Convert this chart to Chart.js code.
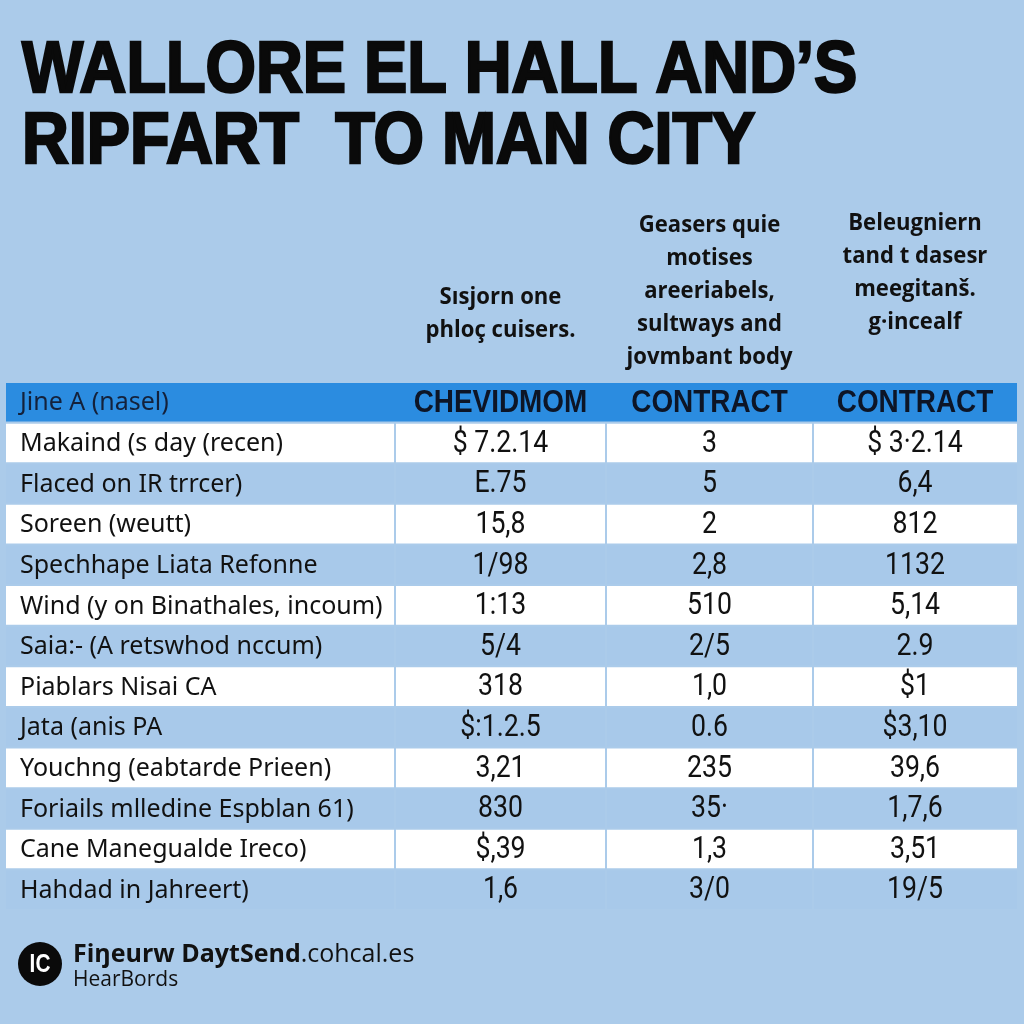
<!DOCTYPE html>
<html>
<head>
<meta charset="utf-8">
<script src="https://cdn.jsdelivr.net/npm/chart.js@4.4.1/dist/chart.umd.min.js"></script>
<style>
  html, body { margin: 0; padding: 0; background: #abcbea; }
  #wrap { width: 1024px; height: 1024px; }
</style>
</head>
<body>
<div id="wrap"><canvas id="myChart"></canvas></div>
<script>
// setup - text and values
const titleLines = ['WALLORE EL HALL AND\u2019S', 'RIPFART  TO MAN CITY'];
const rowLabels = [
    'Jine A (nasel)',
    'Makaind (s day (recen)',
    'Flaced on IR trrcer)',
    'Soreen (weutt)',
    'Spechhape Liata Refonne',
    'Wind (y on Binathales, incoum)',
    'Saia:- (A retswhod nccum)',
    'Piablars Nisai CA',
    'Jata (anis PA',
    'Youchng (eabtarde Prieen)',
    'Foriails mlledine Espblan 61)',
    'Cane Manegualde Ireco)',
    'Hahdad in Jahreert)',
];
const colHeaders = ['CHEVIDMOM', 'CONTRACT', 'CONTRACT'];
const colNotes = [
    ['S\u0131sjorn one', 'phlo\u00e7 cuisers.'],
    ['Geasers quie', 'motises', 'areeriabels,', 'sultways and', 'jovmbant body'],
    ['Beleugniern', 'tand t dasesr', 'meegitan\u0161.', 'g\u00b7incealf'],
];
const colA = ['$ 7.2.14', 'E.75', '15,8', '1/98', '1:13', '5/4', '318', '$:1.2.5', '3,21', '830', '$,39', '1,6'];
const colB = ['3', '5', '2', '2,8', '510', '2/5', '1,0', '0.6', '235', '35\u00b7', '1,3', '3/0'];
const colC = ['$ 3\u00b72.14', '6,4', '812', '1132', '5,14', '2.9', '$1', '$3,10', '39,6', '1,7,6', '3,51', '19/5'];
const footerBold = 'Fi\u014beurw DaytSend';
const footerRest = '.cohcal.es';
const footerSub = 'HearBords';

// layout (column edges on the x scale)
const colEdges = [0, 389, 600, 807, 1011];
const noteBottoms = [330, 357, 322];
const BG = '#abcbea';
const HEAD = '#2b8ce0';
const ROWBLUE = '#a8c9ea';

const datasets = colEdges.slice(0, 4).map((start, c) => {
    const end = colEdges[c + 1];
    return {
        label: 'col' + c,
        grouped: false,
        barPercentage: 1,
        categoryPercentage: 0.95,
        borderWidth: 0,
        data: rowLabels.map((_, r) => r === 0
            ? [start, end]
            : [start + (c ? 1 : 0), end - (c < 3 ? 1 : 0)]),
        backgroundColor: rowLabels.map((_, r) => r === 0 ? HEAD : (r % 2 ? '#ffffff' : ROWBLUE)),
    };
});

// draws text squeezed horizontally around (x, y)
const squeezed = (ctx, txt, x, y, sx) => {
    ctx.save();
    ctx.translate(x, y);
    ctx.scale(sx, 1);
    ctx.fillText(txt, 0, 0);
    ctx.restore();
};

const tableText = {
    id: 'tableText',
    beforeDraw(chart) {
        const ctx = chart.ctx;
        ctx.save();
        ctx.fillStyle = BG;
        ctx.fillRect(0, 0, chart.width, chart.height);
        ctx.restore();
    },
    afterDatasetsDraw(chart) {
        const ctx = chart.ctx;
        const xs = chart.scales.x, ys = chart.scales.y;
        ctx.save();
        ctx.textBaseline = 'middle';

        // first column: row labels
        ctx.textAlign = 'left';
        rowLabels.forEach((lab, r) => {
            ctx.font = '25px "Noto Sans"';
            ctx.fillStyle = r === 0 ? '#14213a' : '#111111';
            ctx.fillText(lab, xs.getPixelForValue(colEdges[0]) + 14, ys.getPixelForValue(r) + 1);
        });

        // header row labels
        ctx.textAlign = 'center';
        colHeaders.forEach((h, c) => {
            const cx = xs.getPixelForValue((colEdges[c + 1] + colEdges[c + 2]) / 2);
            ctx.font = 'bold 31px "Liberation Sans"';
            ctx.fillStyle = '#0d1526';
            squeezed(ctx, h, cx, ys.getPixelForValue(0) + 1, 0.9);
        });

        // values
        [colA, colB, colC].forEach((col, c) => {
            const cx = xs.getPixelForValue((colEdges[c + 1] + colEdges[c + 2]) / 2);
            col.forEach((v, i) => {
                ctx.font = '31px Roboto';
                ctx.fillStyle = '#111111';
                squeezed(ctx, v, cx, ys.getPixelForValue(i + 1) + 1, 0.86);
            });
        });

        // notes above the columns
        colNotes.forEach((lines, c) => {
            const cx = xs.getPixelForValue((colEdges[c + 1] + colEdges[c + 2]) / 2);
            ctx.font = 'bold 24px "Open Sans"';
            ctx.fillStyle = '#111111';
            lines.forEach((ln, k) => {
                squeezed(ctx, ln, cx, noteBottoms[c] - (lines.length - 1 - k) * 33, 0.92);
            });
        });
        ctx.restore();
    },
    afterDraw(chart) {
        const ctx = chart.ctx;
        ctx.save();
        // title
        ctx.fillStyle = '#0a0a0a';
        ctx.strokeStyle = '#0a0a0a';
        ctx.lineWidth = 2.5;
        ctx.font = 'bold 72px "Liberation Sans"';
        ctx.textAlign = 'left';
        ctx.textBaseline = 'alphabetic';
        titleLines.forEach((t, i) => {
            ctx.save();
            ctx.translate(22, 92 + i * 71);
            ctx.scale(0.9, 1);
            ctx.fillText(t, 0, 0);
            ctx.strokeText(t, 0, 0);
            ctx.restore();
        });

        // footer logo
        ctx.beginPath();
        ctx.arc(40, 964, 22, 0, Math.PI * 2);
        ctx.fillStyle = '#0a0a0a';
        ctx.fill();
        ctx.fillStyle = '#ffffff';
        ctx.font = 'bold 26px "Liberation Sans"';
        ctx.textAlign = 'center';
        ctx.textBaseline = 'middle';
        squeezed(ctx, 'IC', 40, 965, 0.8);

        ctx.textAlign = 'left';
        ctx.textBaseline = 'alphabetic';
        ctx.fillStyle = '#111111';
        ctx.font = 'bold 25px "Open Sans"';
        ctx.fillText(footerBold, 73, 962);
        const w = ctx.measureText(footerBold).width;
        ctx.font = '25px "Open Sans"';
        ctx.fillText(footerRest, 73 + w, 962);
        ctx.font = '21px "Open Sans"';
        ctx.fillText(footerSub, 73, 986);
        ctx.restore();
    }
};

const config = {
    type: 'bar',
    data: { labels: rowLabels, datasets },
    options: {
        indexAxis: 'y',
        responsive: true,
        maintainAspectRatio: false,
        animation: false,
        layout: { padding: { left: 6, right: 7, top: 382, bottom: 114 } },
        scales: {
            x: { type: 'linear', min: colEdges[0], max: colEdges[4], display: false },
            y: { type: 'category', display: false }
        },
        plugins: {
            legend: { display: false },
            tooltip: { enabled: false },
            title: { display: false }
        }
    },
    plugins: [tableText]
};

let myChart = new Chart('myChart', config);
</script>
</body>
</html>
